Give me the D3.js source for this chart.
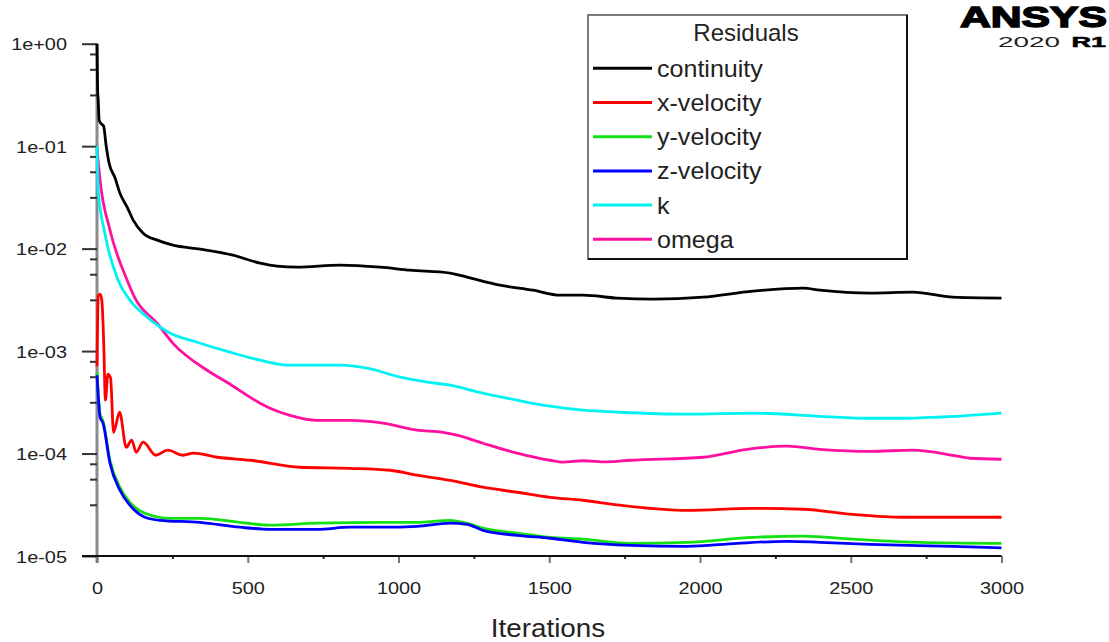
<!DOCTYPE html>
<html>
<head>
<meta charset="utf-8">
<script src="https://cdn.jsdelivr.net/npm/d3@7"></script>
<style>
  html, body { margin: 0; padding: 0; background: #fff; }
  svg { display: block; }
</style>
</head>
<body>
<svg id="chart" width="1109" height="642"></svg>
<script>
// Axis ticks and labels
const xTicks = [0, 500, 1000, 1500, 2000, 2500, 3000];
const xMinorTicks = [250, 750, 1250, 1750, 2250, 2750];
const yTicks = [1, 1e-1, 1e-2, 1e-3, 1e-4, 1e-5];
const yTickLabels = ["1e+00", "1e-01", "1e-02", "1e-03", "1e-04", "1e-05"];
const yMinorSteps = [0.1, 0.25, 0.5]; // decade fractions below each major tick

const seriesNames = ["continuity", "x-velocity", "y-velocity", "z-velocity", "k", "omega"];
const seriesColors = ["#000000", "#ff0000", "#12e012", "#0000ff", "#00f2f2", "#ff10a0"];

// Residual histories: [iteration, residual]
const continuity = [
  [0, 1.0], [2, 0.353], [4, 0.282], [7, 0.18], [12, 0.168], [22, 0.157], [30, 0.1026],
  [40, 0.0684], [60, 0.0489], [76, 0.0348], [100, 0.0254], [120, 0.019], [153, 0.01416],
  [200, 0.0121], [252, 0.0108], [342, 0.00989], [451, 0.00863], [541, 0.00721],
  [597, 0.00674], [663, 0.00659], [806, 0.0069], [939, 0.00659], [1038, 0.00616],
  [1171, 0.00577], [1227, 0.00527], [1336, 0.0044], [1446, 0.00393], [1536, 0.00351],
  [1612, 0.00351], [1725, 0.00329], [1844, 0.00321], [2010, 0.00336], [2176, 0.00385],
  [2342, 0.00411], [2398, 0.00393], [2564, 0.00368], [2706, 0.00376], [2839, 0.00336],
  [3000, 0.00329]
];
const xVelocity = [
  [0, 7.12e-4], [2, 2.0e-3], [4, 3.44e-3], [10, 3.6e-3], [16, 3.14e-3], [22, 1.28e-3],
  [28, 3.32e-4], [36, 5.96e-4], [45, 5.45e-4], [55, 1.61e-4], [75, 2.53e-4], [97, 1.15e-4],
  [115, 1.35e-4], [130, 1.03e-4], [153, 1.29e-4], [195, 9.62e-5], [235, 1.08e-4],
  [285, 9.62e-5], [320, 1.01e-4], [400, 9.2e-5], [508, 8.6e-5], [674, 7.35e-5],
  [840, 7.18e-5], [972, 6.87e-5], [1061, 6.14e-5], [1171, 5.48e-5], [1280, 4.69e-5],
  [1393, 4.19e-5], [1502, 3.74e-5], [1612, 3.5e-5], [1735, 3.13e-5], [1957, 2.79e-5],
  [2176, 2.92e-5], [2342, 2.86e-5], [2507, 2.55e-5], [2673, 2.39e-5], [3000, 2.39e-5]
];
const yVelocity = [
  [0, 6.22e-4], [5, 3.47e-4], [10, 2.42e-4], [20, 2.07e-4], [43, 8.6e-5], [76, 4.69e-5],
  [109, 3.34e-5], [159, 2.61e-5], [242, 2.33e-5], [342, 2.33e-5], [474, 2.13e-5],
  [574, 2.0e-5], [730, 2.09e-5], [949, 2.13e-5], [1061, 2.13e-5], [1171, 2.23e-5],
  [1227, 2.09e-5], [1280, 1.87e-5], [1393, 1.67e-5], [1502, 1.52e-5], [1612, 1.46e-5],
  [1768, 1.33e-5], [1957, 1.36e-5], [2176, 1.52e-5], [2342, 1.56e-5], [2507, 1.46e-5],
  [2729, 1.36e-5], [3000, 1.33e-5]
];
const zVelocity = [
  [0, 5.82e-4], [5, 3.32e-4], [10, 2.26e-4], [20, 1.98e-4], [43, 8.04e-5], [76, 4.38e-5],
  [109, 3.13e-5], [159, 2.39e-5], [209, 2.23e-5], [342, 2.13e-5], [474, 1.91e-5],
  [574, 1.82e-5], [730, 1.82e-5], [839, 1.91e-5], [949, 1.91e-5], [1061, 1.95e-5],
  [1171, 2.09e-5], [1227, 2.04e-5], [1280, 1.78e-5], [1393, 1.59e-5], [1502, 1.49e-5],
  [1612, 1.36e-5], [1768, 1.27e-5], [1957, 1.24e-5], [2123, 1.33e-5], [2289, 1.39e-5],
  [2398, 1.36e-5], [2564, 1.3e-5], [2839, 1.24e-5], [3000, 1.2e-5]
];
const kResidual = [
  [0, 0.1], [2, 0.0522], [4, 0.0373], [26, 0.01416], [70, 4.92e-3], [109, 3.14e-3],
  [166, 2.15e-3], [182, 1.96e-3], [242, 1.5e-3], [332, 1.22e-3], [441, 9.75e-4],
  [541, 8.14e-4], [640, 7.28e-4], [806, 7.28e-4], [896, 6.81e-4], [1006, 5.56e-4],
  [1095, 4.97e-4], [1171, 4.65e-4], [1280, 3.88e-4], [1393, 3.32e-4], [1502, 2.9e-4],
  [1612, 2.65e-4], [1735, 2.53e-4], [1957, 2.42e-4], [2176, 2.48e-4], [2398, 2.31e-4],
  [2564, 2.21e-4], [2673, 2.21e-4], [2785, 2.26e-4], [3000, 2.48e-4]
];
const omegaResidual = [
  [0, 0.095], [10, 0.0467], [43, 0.0152], [100, 4.92e-3], [126, 3.29e-3], [199, 1.87e-3],
  [252, 1.19e-3], [365, 6.5e-4], [431, 4.97e-4], [541, 3.1e-4], [574, 2.77e-4],
  [640, 2.36e-4], [730, 2.11e-4], [839, 2.11e-4], [949, 1.98e-4], [1061, 1.69e-4],
  [1147, 1.61e-4], [1194, 1.51e-4], [1280, 1.26e-4], [1393, 1.01e-4], [1502, 8.6e-5],
  [1546, 8.25e-5], [1612, 8.5e-5], [1691, 8.3e-5], [1768, 8.6e-5], [2010, 9.2e-5],
  [2156, 1.1e-4], [2289, 1.18e-4], [2398, 1.1e-4], [2564, 1.05e-4], [2706, 1.08e-4],
  [2839, 9.62e-5], [2895, 9.0e-5], [3000, 8.8e-5]
];
const seriesData = [continuity, xVelocity, yVelocity, zVelocity, kResidual, omegaResidual];

const svg = d3.select("#chart");
const FONT = "'Liberation Sans', Arial, sans-serif";

const x = d3.scaleLinear().domain([0, 3000]).range([97, 1001.5]);
const y = d3.scaleLog().domain([1e-5, 1]).range([556, 43.7]);

// Vertical axis line (grey)
svg.append("line")
  .attr("x1", x(0)).attr("x2", x(0))
  .attr("y1", y(1)).attr("y2", y(1e-5) + 7)
  .attr("stroke", "#8c8c8c").attr("stroke-width", 3);

// Minor y ticks
const yMinor = [];
yTicks.slice(0, 5).forEach(t => yMinorSteps.forEach(s => yMinor.push(t * Math.pow(10, -s))));
const gyMinor = svg.append("g").attr("transform", `translate(${x(0)},0)`)
  .call(d3.axisLeft(y).tickValues(yMinor).tickSize(7).tickFormat(""));
gyMinor.select(".domain").remove();
gyMinor.selectAll("line").attr("stroke", "#333").attr("stroke-width", 2);

// Major y ticks + labels
const gy = svg.append("g").attr("transform", `translate(${x(0)},0)`)
  .call(d3.axisLeft(y).tickValues(yTicks).tickSize(15)
    .tickFormat((d, i) => yTickLabels[i]));
gy.select(".domain").remove();
gy.selectAll("line").attr("stroke", "#333").attr("stroke-width", 2);
gy.selectAll("text")
  .attr("x", 0).attr("dy", "0.36em")
  .attr("transform", "translate(-30,0) scale(1.17,1)")
  .attr("text-anchor", "end")
  .attr("fill", "#222")
  .style("font-family", FONT).style("font-size", "17px");

// X axis: major ticks below, minor ticks, and baseline
const gx = svg.append("g").attr("transform", `translate(0,${y(1e-5)})`)
  .call(d3.axisBottom(x).tickValues(xTicks).tickSize(7).tickFormat(d3.format("d")));
gx.select(".domain").remove();
gx.selectAll("line").attr("stroke", "#777").attr("stroke-width", 2);
gx.selectAll("text")
  .attr("y", 0).attr("dy", "0")
  .attr("transform", "translate(0,38) scale(1.17,1)")
  .attr("fill", "#222")
  .style("font-family", FONT).style("font-size", "17px");

const gxMinor = svg.append("g").attr("transform", `translate(0,${y(1e-5)})`)
  .call(d3.axisBottom(x).tickValues(xMinorTicks).tickSize(3).tickFormat(""));
gxMinor.select(".domain").remove();
gxMinor.selectAll("line").attr("stroke", "#222").attr("stroke-width", 2);

svg.append("line")
  .attr("x1", 82).attr("x2", x(3000))
  .attr("y1", y(1e-5)).attr("y2", y(1e-5))
  .attr("stroke", "#111").attr("stroke-width", 2);

// Residual curves
const line = d3.line()
  .x(d => x(d[0]))
  .y(d => y(d[1]))
  .curve(d3.curveMonotoneX);

// draw so continuity ends on top, like the solver plot
const drawOrder = [5, 4, 2, 3, 1, 0];
drawOrder.forEach(i => {
  svg.append("path")
    .datum(seriesData[i])
    .attr("d", line)
    .attr("fill", "none")
    .attr("stroke", seriesColors[i])
    .attr("stroke-width", 2.8)
    .attr("stroke-linejoin", "round");
});

// Axis title
svg.append("text")
  .attr("transform", "translate(548,637) scale(1.07,1)")
  .attr("text-anchor", "middle")
  .attr("fill", "#222")
  .style("font-family", FONT).style("font-size", "26px")
  .text("Iterations");

// Legend
const legend = svg.append("g");
legend.append("rect")
  .attr("x", 588).attr("y", 15).attr("width", 319).attr("height", 244)
  .attr("fill", "#fff").attr("stroke", "#7a7a7a").attr("stroke-width", 2);
legend.append("path")
  .attr("d", "M907,15 V259 H588")
  .attr("fill", "none").attr("stroke", "#111").attr("stroke-width", 2);
legend.append("text")
  .attr("x", 746).attr("y", 41)
  .attr("text-anchor", "middle")
  .attr("fill", "#222")
  .style("font-family", FONT).style("font-size", "24px")
  .text("Residuals");

const rowY = d3.scaleLinear().domain([0, 5]).range([68.3, 239.3]);
seriesNames.forEach((name, i) => {
  const yy = rowY(i);
  legend.append("line")
    .attr("x1", 593).attr("x2", 652).attr("y1", yy).attr("y2", yy)
    .attr("stroke", seriesColors[i]).attr("stroke-width", 3);
  legend.append("text")
    .attr("transform", `translate(657,${yy + 8.4}) scale(1.09,1)`)
    .attr("fill", "#222")
    .style("font-family", FONT).style("font-size", "23px")
    .text(name);
});

// Product badge: wordmark with release line underneath
const badge = svg.append("g").style("font-family", FONT);
badge.append("text")
  .attr("x", 960).attr("y", 27)
  .attr("textLength", 147).attr("lengthAdjust", "spacingAndGlyphs")
  .attr("fill", "#000").attr("stroke", "#000").attr("stroke-width", 1.4)
  .style("font-weight", "bold").style("font-size", "29px")
  .text("ANSYS");
const release = badge.append("text")
  .attr("y", 47)
  .style("font-size", "15px");
release.append("tspan")
  .attr("x", 998)
  .attr("textLength", 62).attr("lengthAdjust", "spacingAndGlyphs")
  .attr("fill", "#222")
  .text("2020");
release.append("tspan")
  .attr("x", 1071.5)
  .attr("textLength", 34.5).attr("lengthAdjust", "spacingAndGlyphs")
  .attr("fill", "#000").attr("stroke", "#000").attr("stroke-width", 0.5)
  .style("font-weight", "bold")
  .text("R1");
</script>
</body>
</html>
